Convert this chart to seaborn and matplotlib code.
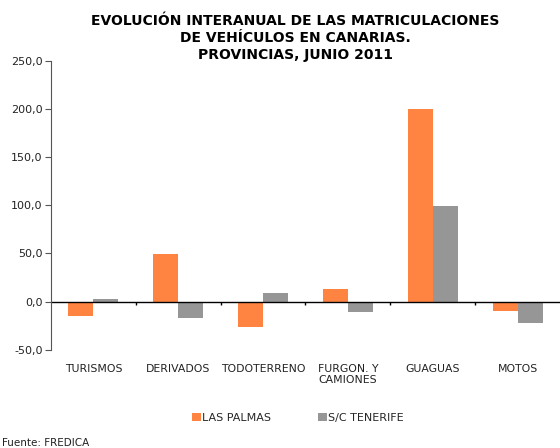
import pandas as pd
import matplotlib.pyplot as plt
import seaborn as sns

# data
categories = ["TURISMOS", "DERIVADOS", "TODOTERRENO", "FURGON. Y\nCAMIONES", "GUAGUAS", "MOTOS"]
las_palmas = [-15.0, 49.0, -26.0, 12.7, 200.0, -10.0]
tenerife = [2.4, -17.0, 8.6, -11.0, 99.7, -22.5]
series = ["LAS PALMAS", "S/C TENERIFE"]

df = pd.DataFrame({
    "cat": categories * 2,
    "val": las_palmas + tenerife,
    "serie": [series[0]] * len(categories) + [series[1]] * len(categories),
})

sns.set_style("white")
plt.rcParams["font.family"] = ["DejaVu Sans"]

fig = plt.figure(figsize=(5.6, 4.48), dpi=100)
ax = fig.add_axes([0.091, 0.219, 0.909, 0.6455])

sns.barplot(data=df, x="cat", y="val", hue="serie", order=categories,
            palette=["#FF8442", "#969696"], width=0.59, gap=0,
            saturation=1, linewidth=0, ax=ax, legend=True)

ax.set_ylim(-50, 250)
ax.set_xlim(-0.5, len(categories) - 0.5)
ax.set_yticks([-50, 0, 50, 100, 150, 200, 250])
ax.set_yticklabels(["-50,0", "0,0", "50,0", "100,0", "150,0", "200,0", "250,0"])
ax.set_xlabel("")
ax.set_ylabel("")

for s in ["top", "right", "bottom"]:
    ax.spines[s].set_visible(False)
ax.spines["left"].set_color("#555555")
ax.tick_params(axis="y", length=4, color="#555555", labelsize=8, labelcolor="#222222", pad=2, left=True)
ax.tick_params(axis="x", length=0, labelsize=7.8, labelcolor="#222222", pad=10)

ax.axhline(0, color="black", lw=1)
ax.vlines([i + 0.5 for i in range(len(categories) - 1)], -3, 0, color="black", lw=1)

ax.legend_.remove()
handles, labels = ax.get_legend_handles_labels()
fig.legend(handles, labels, loc="center", bbox_to_anchor=(0.532, 0.067), ncol=2,
           frameon=False, fontsize=8, handlelength=0.8, handleheight=0.8,
           handletextpad=0.1, columnspacing=4.3)

fig.text(0.527, 0.861, "EVOLUCIÓN INTERANUAL DE LAS MATRICULACIONES\nDE VEHÍCULOS EN CANARIAS.\nPROVINCIAS, JUNIO 2011",
         ha="center", va="bottom", fontsize=10, fontweight="bold", color="black", linespacing=1.3)
fig.text(0.004, 0.012, "Fuente: FREDICA", fontsize=7.5, color="#222222", ha="left", va="center")

fig.savefig("out.png", dpi=100)
